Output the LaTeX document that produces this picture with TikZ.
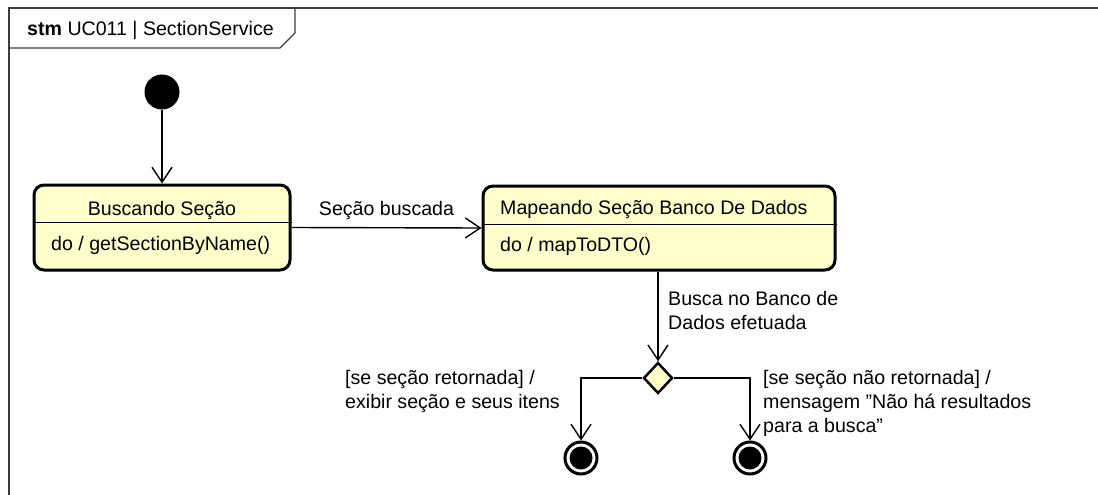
\documentclass[tikz,border=0pt]{standalone}
\usepackage{fontspec}
\setmainfont{Liberation Sans}
\usepackage{xcolor}
\usepackage{tikz}
\usetikzlibrary{positioning,arrows.meta,shapes.geometric}
\definecolor{stateyellow}{RGB}{255,255,204}
\definecolor{framegray}{RGB}{60,60,60}

\begin{document}
\begin{tikzpicture}[x=1pt, y=-1pt, every node/.style={font=\fontsize{19.6}{24}\selectfont, inner sep=0pt}]
    \tikzstyle{state}=[draw=black, line width=3pt, rounded corners=10pt, fill=stateyellow]
    \tikzstyle{trans}=[-{Straight Barb[length=15pt, width=20pt]}, line width=1.4pt]
    \tikzstyle{final}=[circle, draw=black, line width=3pt, fill=white, minimum size=32pt,
      path picture={\fill[black] (path picture bounding box.center) circle (11.5pt);}]
    \useasboundingbox (0,0) rectangle (1098,495);
    % frame
    \draw[framegray, line width=1.6pt] (9,495) -- (9,8) -- (1098,8);
    \draw[framegray, line width=1.3pt] (9,48) -- (280,48) -- (295,33) -- (295,8);
    \node[anchor=west] (title) at (27,30) {\textbf{stm} UC011 | SectionService};
    % states
    \node[circle, fill=black, minimum size=35pt] (init) at (162,92) {};
    \node[state, minimum width=256pt, minimum height=85pt] (s1) at (162,227.5) {};
    \node (s1t) at (162,210) {Buscando Seção};
    \node[anchor=west] (s1a) at (51,245) {do / getSectionByName()};
    \draw[line width=1pt] (s1.west |- 0,222) -- (s1.east |- 0,222);
    \node[state, minimum width=352pt, minimum height=84pt] (s2) at (659,228) {};
    \node[anchor=west] (s2t) at (500,209) {Mapeando Seção Banco De Dados};
    \node[anchor=west] (s2a) at (500,246) {do / mapToDTO()};
    \draw[line width=1pt] (s2.west |- 0,224) -- (s2.east |- 0,224);
    \node[diamond, draw=black, line width=2.5pt, fill=stateyellow, minimum width=29pt, minimum height=31pt] (dec) at (658,378) {};
    \node[final] (f1) at (581,458) {};
    \node[final] (f2) at (750,458) {};
    % transitions
    \draw[trans] (init) -- (s1);
    \draw[trans] (s1.east) -- node[above=7pt] (l1) {Seção buscada} (s2.west);
    \draw[trans] (s2.south -| dec) -- (dec.north);
    \draw[trans] (dec.west) -| (f1.north);
    \draw[trans] (dec.east) -| (f2.north);
    \node[anchor=west, align=left] (l2) at (668,310) {Busca no Banco de\\Dados efetuada};
    \node[anchor=west, align=left] (l3) at (345,391) {[se seção retornada] /\\exibir seção e seus itens};
    \node[anchor=west, align=left] (l4) at (763,403) {[se seção não retornada] /\\mensagem \symbol{34}Não há resultados\\para a busca\symbol{34}};
  \end{tikzpicture}
\end{document}
